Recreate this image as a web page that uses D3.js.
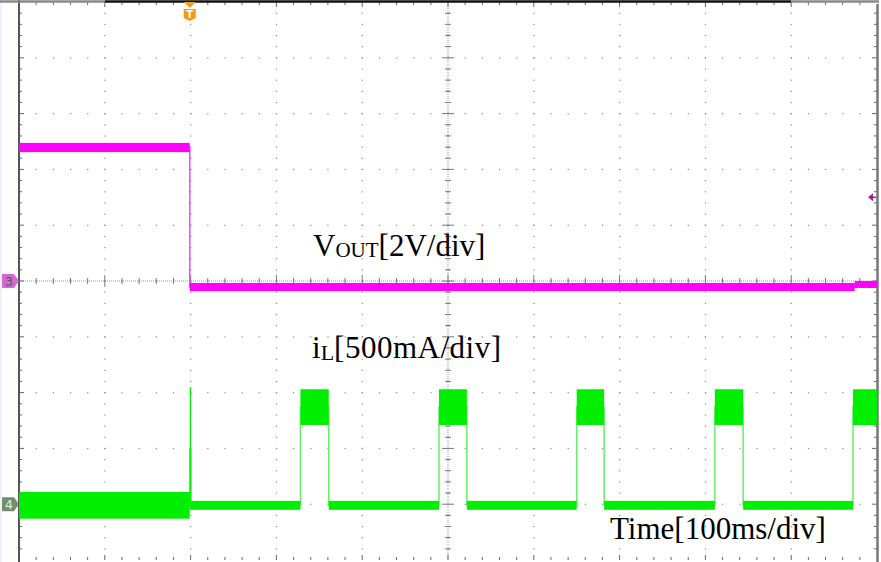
<!DOCTYPE html>
<html><head><meta charset="utf-8">
<script src="https://cdn.jsdelivr.net/npm/d3@7"></script>
<style>html,body{margin:0;padding:0;background:#fff;}svg{display:block;}</style>
</head><body><div id="chart"></div>
<script>
// time axis: 100 ms/div, 10 divisions
const timeDomain = [0, 1000];
const hDivs = 10, vDivs = 10;
// CH3 VOUT (V): segments [t0, t1, low, high]
const vout = [
  [0, 199, 4.62, 4.95],
  [199, 974, -0.36, -0.07],
  [974, 1000, -0.25, 0.0]
];
// CH4 iL (A): segments [t0, t1, low, high]
const il = [
  [0, 199, -0.13, 0.11],
  [199, 200.5, -0.05, 1.05],
  [200.5, 328, -0.05, 0.03],
  [328, 361, 0.71, 1.03],
  [361, 489.5, -0.05, 0.03],
  [489.5, 522, 0.71, 1.03],
  [522, 650, -0.05, 0.03],
  [650, 682, 0.71, 1.03],
  [682, 811, -0.05, 0.03],
  [811, 844, 0.71, 1.03],
  [844, 972, -0.05, 0.03],
  [972, 1000, 0.71, 1.03]
];
const triggerTime = 199;
const triggerLevelV = 3.0;

const W = 881, H = 562;
const L = 19, R = 877, T = 2, B = 560;
const svg = d3.select("#chart").append("svg").attr("width", W).attr("height", H);

const x = d3.scaleLinear().domain(timeDomain).range([L, R]);
const yDiv = d3.scaleLinear().domain([0, vDivs]).range([T, B]);
const xDiv = d3.scaleLinear().domain([0, hDivs]).range([L, R]);
const yV = d3.scaleLinear().domain([-10, 10]).range([B, T]);          // 2 V/div, 0 V at center
const yI = d3.scaleLinear().domain([0, 0.5]).range([yDiv(9), yDiv(8)]); // 500 mA/div, 0 A at 9th div

svg.append("rect").attr("x", 0).attr("y", 0).attr("width", 2).attr("height", H).attr("fill", "#eef2fb");

const g = svg.append("g");
const dotC = "#8a8a8a";
for (let i = 1; i < vDivs; i++) {
  const yy = yDiv(i);
  for (let k = 1; k < hDivs * 5; k++) {
    g.append("rect").attr("x", xDiv(k / 5) - 0.5).attr("y", yy - 0.5).attr("width", 1.2).attr("height", 1.2).attr("fill", dotC);
  }
}
for (let i = 1; i < hDivs; i++) {
  const xx = xDiv(i);
  for (let k = 1; k < vDivs * 5; k++) {
    g.append("rect").attr("x", xx - 0.5).attr("y", yDiv(k / 5) - 0.5).attr("width", 1.2).attr("height", 1.2).attr("fill", dotC);
  }
}
const cx = xDiv(hDivs / 2), cy = yDiv(vDivs / 2);
g.append("line").attr("x1", cx).attr("x2", cx).attr("y1", T).attr("y2", B).attr("stroke", "#999").attr("stroke-dasharray", "1,1");
g.append("line").attr("x1", L).attr("x2", R).attr("y1", cy).attr("y2", cy).attr("stroke", "#999").attr("stroke-dasharray", "1,1");
for (let k = 1; k < vDivs * 5; k++) {
  const yy = yDiv(k / 5);
  const len = k % 5 === 0 ? 6 : 3;
  g.append("line").attr("x1", cx - len).attr("x2", cx + len).attr("y1", yy).attr("y2", yy).attr("stroke", "#777");
}
for (let k = 1; k < hDivs * 5; k++) {
  const xx = xDiv(k / 5);
  const len = k % 5 === 0 ? 6 : 3;
  g.append("line").attr("x1", xx).attr("x2", xx).attr("y1", cy - len).attr("y2", cy + len).attr("stroke", "#777");
}
for (let k = 1; k < vDivs * 5; k++) {
  const yy = yDiv(k / 5);
  const len = k % 5 === 0 ? 5 : 3;
  g.append("line").attr("x1", L).attr("x2", L + len).attr("y1", yy).attr("y2", yy).attr("stroke", "#666");
  g.append("line").attr("x1", R - len).attr("x2", R).attr("y1", yy).attr("y2", yy).attr("stroke", "#666");
}
for (let k = 1; k < hDivs * 5; k++) {
  const xx = xDiv(k / 5);
  const len = k % 5 === 0 ? 5 : 3;
  g.append("line").attr("x1", xx).attr("x2", xx).attr("y1", T).attr("y2", T + len).attr("stroke", "#666");
  g.append("line").attr("x1", xx).attr("x2", xx).attr("y1", B - len).attr("y2", B).attr("stroke", "#666");
}
g.append("line").attr("x1", L).attr("x2", L).attr("y1", 0).attr("y2", H).attr("stroke", "#555").attr("stroke-width", 2);
g.append("line").attr("x1", R + 0.5).attr("x2", R + 0.5).attr("y1", 4).attr("y2", H).attr("stroke", "#777").attr("stroke-width", 2.5);
g.append("line").attr("x1", 0).attr("x2", xDiv(1)).attr("y1", 1.5).attr("y2", 1.5).attr("stroke", "#888").attr("stroke-width", 2.5);
g.append("line").attr("x1", xDiv(1)).attr("x2", xDiv(9)).attr("y1", 1.5).attr("y2", 1.5).attr("stroke", "#111").attr("stroke-width", 2.5);
g.append("line").attr("x1", xDiv(9)).attr("x2", R + 2).attr("y1", 1.5).attr("y2", 1.5).attr("stroke", "#888").attr("stroke-width", 2.5);

function drawTrace(data, y, fill, edge) {
  const pts = [];
  data.forEach(s => { pts.push({t: s[0], lo: s[2], hi: s[3]}); pts.push({t: s[1], lo: s[2], hi: s[3]}); });
  svg.append("path").datum(pts)
    .attr("d", d3.line().x(d => x(d.t)).y(d => y((d.lo + d.hi) / 2)))
    .attr("fill", "none").attr("stroke", edge).attr("stroke-width", 1.5);
  svg.selectAll(null).data(data).enter().append("rect")
    .attr("x", d => x(d[0])).attr("width", d => Math.max(1, x(d[1]) - x(d[0])))
    .attr("y", d => y(d[3])).attr("height", d => y(d[2]) - y(d[3]))
    .attr("fill", fill);
}
drawTrace(vout, yV, "#ff00ff", "#ff40ff");
drawTrace(il, yI, "#00ee00", "#66f066");

function marker(yy, fill, label, tc) {
  const m = svg.append("g").attr("transform", `translate(2,${yy})`);
  m.append("path").attr("d", "M0,-7 L12,-7 L17,0 L12,7 L0,7 Z").attr("fill", fill);
  m.append("text").attr("x", 7).attr("y", 5).attr("text-anchor", "middle").attr("font-family", "DejaVu Sans")
    .attr("font-size", 13).attr("fill", tc).text(label);
}
marker(yV(0), "#d468d4", "3", "#3a6a3a");
marker(yI(0), "#6f8f6f", "4", "#e8f0e8");

const tx = x(triggerTime);
svg.append("path").attr("d", `M${tx - 6},2 L${tx + 6},2 L${tx},8 Z`).attr("fill", "#f0a020");
svg.append("path").attr("d", `M${tx - 6},9 L${tx + 6},9 L${tx + 6},18 L${tx},21 L${tx - 6},18 Z`).attr("fill", "#f59a10");
svg.append("text").attr("x", tx).attr("y", 18).attr("text-anchor", "middle").attr("font-family", "DejaVu Sans")
  .attr("font-size", 10).attr("font-weight", "bold").attr("fill", "#fff").text("T");
const ty = yV(triggerLevelV);
svg.append("path").attr("d", `M${R - 9},${ty} L${R - 4},${ty - 4} L${R - 4},${ty + 4} Z`).attr("fill", "#a020a0");
svg.append("line").attr("x1", R - 5).attr("x2", R - 1).attr("y1", ty).attr("y2", ty).attr("stroke", "#a020a0").attr("stroke-width", 1.5);

const font = "'Liberation Serif', 'Times New Roman', serif";
const t1 = svg.append("text").attr("x", 313).attr("y", 256).attr("font-family", font).attr("font-size", 31).attr("fill", "#000");
t1.append("tspan").text("V");
t1.append("tspan").attr("font-size", 21).attr("dy", 1).text("OUT");
t1.append("tspan").attr("dy", -1).text("[2V/div]");
const t2 = svg.append("text").attr("x", 312).attr("y", 358).attr("font-family", font).attr("font-size", 31).attr("fill", "#000");
t2.append("tspan").text("i");
t2.append("tspan").attr("font-size", 22).attr("dy", 2).text("L");
t2.append("tspan").attr("dy", -2).attr("letter-spacing", 0.5).text("[500mA/div]");
svg.append("text").attr("x", 610).attr("y", 539).attr("font-family", font).attr("font-size", 31).attr("fill", "#000").text("Time[100ms/div]");
</script></body></html>
